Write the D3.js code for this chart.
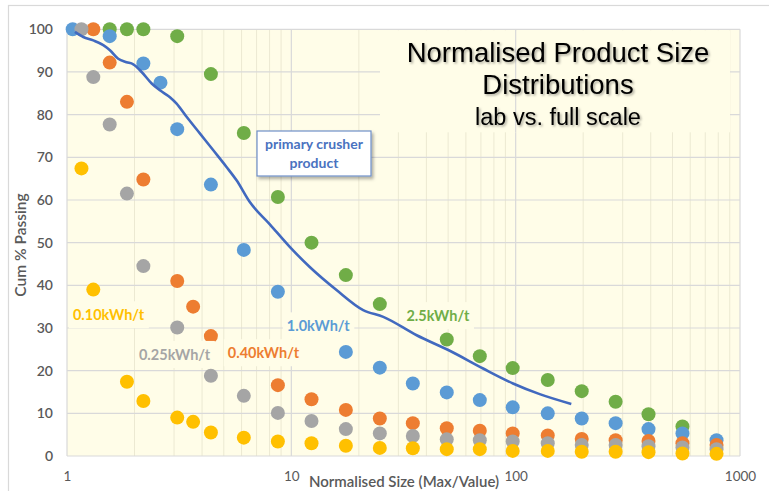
<!DOCTYPE html>
<html>
<head>
<meta charset="utf-8">
<script src="https://cdn.jsdelivr.net/npm/d3@7"></script>
<style>
  html, body { margin: 0; padding: 0; background: #ffffff; }
  svg { display: block; }
</style>
</head>
<body>
<svg id="chart" width="769" height="491"></svg>
<script>
// Axis ticks
const sizeTicks = [1, 10, 100, 1000];
const passingTicks = [0, 10, 20, 30, 40, 50, 60, 70, 80, 90, 100];

// Lab product size distributions (normalised size vs cumulative % passing)
const size010 = [1.16, 1.31, 1.85, 2.19, 3.10, 3.65, 4.38, 6.14, 8.71, 12.3, 17.5, 24.8, 34.8, 49.3, 69.2, 97, 139, 197, 279, 391, 554, 786];
const pass010 = [67.4, 39.0, 17.4, 12.9, 9.0, 8.0, 5.5, 4.3, 3.4, 3.0, 2.4, 1.9, 1.8, 1.6, 1.6, 1.2, 1.2, 1.0, 1.0, 0.9, 0.6, 0.5];

const size025 = [1.16, 1.31, 1.55, 1.85, 2.19, 3.10, 4.38, 6.14, 8.71, 12.3, 17.5, 24.8, 34.8, 49.3, 69.2, 97, 139, 197, 279, 391, 554, 786];
const pass025 = [100, 88.8, 77.7, 61.5, 44.5, 30.1, 18.8, 14.1, 10.1, 8.2, 6.3, 5.3, 4.7, 3.9, 3.7, 3.4, 3.0, 2.6, 2.6, 2.3, 2.0, 1.6];

const size040 = [1.31, 1.55, 1.85, 2.19, 3.10, 3.65, 4.38, 8.71, 12.3, 17.5, 24.8, 34.8, 49.3, 69.2, 97, 139, 197, 279, 391, 554, 786];
const pass040 = [100, 92.2, 83.0, 64.8, 41.0, 35.0, 28.1, 16.6, 13.3, 10.8, 8.8, 7.7, 6.5, 5.9, 5.3, 4.8, 4.0, 3.7, 3.5, 3.0, 2.6];

const size100 = [1.06, 1.55, 2.19, 2.61, 3.10, 4.38, 6.14, 8.71, 17.5, 24.8, 34.8, 49.3, 69.2, 97, 139, 197, 279, 391, 554, 786];
const pass100 = [100, 98.4, 92.0, 87.5, 76.6, 63.6, 48.3, 38.5, 24.4, 20.7, 17.0, 14.9, 13.1, 11.4, 10.0, 8.8, 7.7, 6.3, 5.3, 3.7];

const size250 = [1.55, 1.85, 2.19, 3.10, 4.38, 6.14, 8.71, 12.3, 17.5, 24.8, 49.3, 69.2, 97, 139, 197, 279, 391, 554];
const pass250 = [100, 100, 100, 98.4, 89.5, 75.7, 60.7, 50.0, 42.4, 35.6, 27.3, 23.4, 20.6, 17.8, 15.2, 12.7, 9.8, 6.9];

// Full scale: primary crusher product
const crusherSize = [1.085, 1.182, 1.31, 1.451, 1.554, 1.692, 1.843, 1.974, 2.152, 2.385, 2.595, 2.876, 3.08, 3.413, 3.91, 4.48, 5.13, 5.70, 6.53, 8.02, 9.84, 12.08, 15.9, 20.9, 25.7, 36.2, 51.1, 71.6, 97.3, 128, 177];
const crusherPass = [99.4, 98.2, 97.4, 96.3, 95.1, 93.1, 92.3, 91.8, 90.0, 87.3, 85.7, 84.1, 82.6, 79.5, 75.6, 71.7, 67.8, 64.6, 59.5, 54.3, 49.0, 44.3, 38.9, 34.2, 32.6, 28.3, 24.6, 20.5, 17.0, 14.5, 12.2];

// Series labels (name, anchor size, anchor % passing)
const seriesNames = ["0.10kWh/t", "0.25kWh/t", "0.40kWh/t", "1.0kWh/t", "2.5kWh/t"];
const labelSize = [1.063, 2.093, 5.21, 9.55, 32.6];
const labelPass = [33.0, 23.7, 24.1, 30.4, 32.8];
const seriesColors = ["#ffc000", "#a5a5a5", "#ed7d31", "#5b9bd5", "#70ad47"];

const series = [
  { size: size250, pass: pass250, color: seriesColors[4] },
  { size: size100, pass: pass100, color: seriesColors[3] },
  { size: size040, pass: pass040, color: seriesColors[2] },
  { size: size025, pass: pass025, color: seriesColors[1] },
  { size: size010, pass: pass010, color: seriesColors[0] }
];

const plotBg = "#fffde8";
const svg = d3.select("#chart");

const x = d3.scaleLog().domain([1, 1000]).range([67, 740]);
const y = d3.scaleLinear().domain([0, 100]).range([456, 29.3]);

const defs = svg.append("defs");
const shadow = defs.append("filter").attr("id", "txtShadow")
  .attr("x", "-10%").attr("y", "-20%").attr("width", "120%").attr("height", "150%");
shadow.append("feDropShadow").attr("dx", 1.5).attr("dy", 1.5)
  .attr("stdDeviation", 0.8).attr("flood-color", "#000").attr("flood-opacity", 0.35);
const boxShadow = defs.append("filter").attr("id", "boxShadow")
  .attr("x", "-10%").attr("y", "-20%").attr("width", "130%").attr("height", "150%");
boxShadow.append("feDropShadow").attr("dx", 2).attr("dy", 2.5)
  .attr("stdDeviation", 1.5).attr("flood-color", "#000").attr("flood-opacity", 0.3);

// Chart frame
svg.append("rect").attr("x", 8.5).attr("y", 5.5).attr("width", 790).attr("height", 520)
  .attr("fill", "#ffffff").attr("stroke", "#d9d9d9").attr("stroke-width", 1.2);

// Plot area
svg.append("rect").attr("x", x(1)).attr("y", y(100))
  .attr("width", x(1000) - x(1)).attr("height", y(0) - y(100)).attr("fill", plotBg);

// Minor vertical grid (2..9 in each decade)
const minorTicks = [];
[1, 10, 100].forEach(d => { for (let k = 2; k <= 9; k++) minorTicks.push(d * k); });
const grid = svg.append("g");
grid.selectAll("line.minor").data(minorTicks).join("line")
  .attr("x1", d => x(d)).attr("x2", d => x(d))
  .attr("y1", y(100)).attr("y2", y(0))
  .attr("stroke", "#ece9d2").attr("stroke-width", 1);
grid.selectAll("line.hmaj").data(passingTicks).join("line")
  .attr("x1", x(1)).attr("x2", x(1000))
  .attr("y1", d => y(d)).attr("y2", d => y(d))
  .attr("stroke", "#d9d9d9").attr("stroke-width", 1.2);
grid.selectAll("line.vmaj").data(sizeTicks).join("line")
  .attr("x1", d => x(d)).attr("x2", d => x(d))
  .attr("y1", y(100)).attr("y2", y(0))
  .attr("stroke", "#d9d9d9").attr("stroke-width", 1.2);

// Title panel covers the grid behind the heading
svg.append("rect").attr("x", 380).attr("y", y(100) + 1)
  .attr("width", 350).attr("height", 102).attr("fill", plotBg);
svg.append("line").attr("x1", x(100)).attr("x2", x(100))
  .attr("y1", y(100)).attr("y2", y(100) + 103)
  .attr("stroke", "#d9d9d9").attr("stroke-width", 1.2);

// Axes (text only, grid drawn above)
const yAxis = d3.axisLeft(y).tickValues(passingTicks).tickSize(0).tickPadding(14);
svg.append("g").attr("transform", `translate(${x(1)},0)`).call(yAxis)
  .call(g => g.select(".domain").remove())
  .selectAll("text").attr("font-family", "Lato, 'Open Sans', sans-serif")
  .attr("font-size", 14).attr("font-weight", 600).attr("fill", "#595959");

const xAxis = d3.axisBottom(x).tickValues(sizeTicks).tickFormat(d3.format("d")).tickSize(0).tickPadding(15);
svg.append("g").attr("transform", `translate(0,${y(0)})`).call(xAxis)
  .call(g => g.select(".domain").remove())
  .selectAll("text").attr("font-family", "Lato, 'Open Sans', sans-serif")
  .attr("font-size", 13.5).attr("fill", "#595959");

svg.append("text").attr("x", 404).attr("y", 487).attr("text-anchor", "middle")
  .attr("font-family", "Lato, 'Open Sans', sans-serif").attr("font-size", 15)
  .attr("font-weight", 600).attr("fill", "#595959")
  .text("Normalised Size (Max/Value)");

svg.append("text").attr("transform", "translate(26,245) rotate(-90)")
  .attr("text-anchor", "middle")
  .attr("font-family", "Lato, 'Open Sans', sans-serif").attr("font-size", 15.5)
  .attr("font-weight", 600).attr("fill", "#595959")
  .text("Cum % Passing");

// Points
const pts = svg.append("g");
series.forEach(s => {
  pts.append("g").selectAll("circle").data(d3.range(s.size.length)).join("circle")
    .attr("cx", i => x(s.size[i])).attr("cy", i => y(s.pass[i]))
    .attr("r", 7).attr("fill", s.color);
});

// Series labels with panels
const labelG = svg.append("g");
seriesNames.forEach((name, i) => {
  const g = labelG.append("g");
  const t = g.append("text").attr("x", x(labelSize[i])).attr("y", y(labelPass[i]))
    .attr("dy", "0.35em")
    .attr("font-family", "Lato, 'Open Sans', sans-serif").attr("font-size", 14.5)
    .attr("font-weight", 700).attr("fill", seriesColors[i]).text(name);
  const bb = t.node().getBBox();
  g.insert("rect", "text").attr("x", bb.x - 4).attr("y", bb.y - 5)
    .attr("width", bb.width + 8).attr("height", bb.height + 10).attr("fill", plotBg);
});

// Primary crusher product curve
const line = d3.line().x(i => x(crusherSize[i])).y(i => y(crusherPass[i])).curve(d3.curveMonotoneX);
svg.append("path").datum(d3.range(crusherSize.length)).attr("d", line)
  .attr("fill", "none").attr("stroke", "#4169bf").attr("stroke-width", 2.6)
  .attr("stroke-linejoin", "round");

// Primary crusher product call-out
const callout = svg.append("g");
callout.append("rect").attr("x", 257).attr("y", 131).attr("width", 114).attr("height", 45)
  .attr("fill", "#ffffff").attr("stroke", "#6f8fc8").attr("stroke-width", 1.2)
  .attr("filter", "url(#boxShadow)");
callout.selectAll("text").data(["primary crusher", "product"]).join("text")
  .attr("x", 314).attr("y", (d, i) => 149 + i * 19).attr("text-anchor", "middle")
  .attr("font-family", "Lato, 'Open Sans', sans-serif").attr("font-size", 14)
  .attr("font-weight", 700).attr("fill", "#4a72c0").text(d => d);

// Heading
const head = svg.append("g").attr("filter", "url(#txtShadow)")
  .attr("font-family", "'Liberation Sans', Arial, sans-serif").attr("fill", "#000")
  .attr("text-anchor", "middle");
head.append("text").attr("x", 558).attr("y", 62).attr("font-size", 27.5).text("Normalised Product Size");
head.append("text").attr("x", 558).attr("y", 94).attr("font-size", 27.5).text("Distributions");
head.append("text").attr("x", 558).attr("y", 125).attr("font-size", 23.5).text("lab vs. full scale");
</script>
</body>
</html>
